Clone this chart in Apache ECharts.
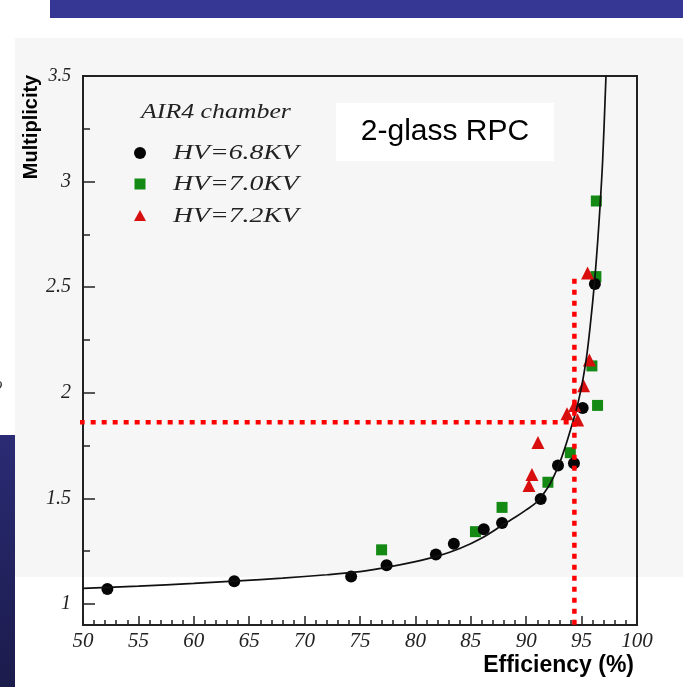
<!DOCTYPE html>
<html>
<head>
<meta charset="utf-8">
<script src="https://cdn.jsdelivr.net/npm/echarts@6/dist/echarts.min.js"></script>
<style>
  html, body { margin: 0; padding: 0; background: #ffffff; }
  #chart { width: 683px; height: 687px; }
</style>
</head>
<body>
<div id="chart"></div>
<script>
// Axis ranges and ticks
const efficiencyRange = [50, 100];
const multiplicityRange = [0.9, 3.5];
const multiplicityTicks = [1, 1.5, 2, 2.5, 3, 3.5];
const multiplicityMinorTicks = [1.25, 1.75, 2.25, 2.75, 3.25];

// Measured points: [efficiency %, multiplicity]
const hv68 = [
  [52.2, 1.07], [63.65, 1.107], [74.2, 1.13], [77.4, 1.183], [81.85, 1.234],
  [83.47, 1.285], [86.17, 1.353], [87.82, 1.383], [91.31, 1.497], [92.87, 1.655],
  [94.31, 1.666], [95.1, 1.928], [96.2, 2.515]
];
const hv70 = [
  [76.95, 1.256], [85.42, 1.342], [87.82, 1.457], [91.96, 1.576], [93.98, 1.716],
  [96.44, 1.94], [95.93, 2.127], [96.29, 2.55], [96.33, 2.908]
];
const hv72 = [
  [90.25, 1.561], [90.52, 1.613], [91.06, 1.764], [93.68, 1.90], [94.64, 1.871],
  [94.37, 1.94], [95.18, 2.033], [95.7, 2.155], [95.54, 2.567]
];

// Fitted multiplicity vs efficiency curve
const fitCurve = [
  [50, 1.073], [55, 1.084], [60, 1.097], [64, 1.109], [68, 1.122], [72, 1.138],
  [75, 1.153], [77.5, 1.174], [80, 1.2], [82, 1.226], [84, 1.262], [86, 1.312],
  [88, 1.378], [89, 1.41], [90, 1.445], [91, 1.485], [92, 1.555], [92.5, 1.605],
  [93, 1.665], [93.5, 1.74], [94, 1.825], [94.5, 1.915], [95, 2.03], [95.5, 2.19],
  [96, 2.43], [96.3, 2.61], [96.6, 2.83], [96.9, 3.1], [97.2, 3.5]
];

// Working point guide lines
const guideHorizontal = [[49.7, 1.86], [94.35, 1.86]];
const guideVertical = [[94.35, 2.54], [94.35, 0.9]];

const legendTitle = 'AIR4 chamber';
const seriesNames = ['HV=6.8KV', 'HV=7.0KV', 'HV=7.2KV'];
const seriesColors = ['#050505', '#148a14', '#d90f0f'];

const serifItalic = { fontFamily: 'Liberation Serif', fontStyle: 'italic', color: '#222' };
const legendFont = 'italic 22px "Liberation Serif"';

const chart = echarts.init(document.getElementById('chart'), null, { renderer: 'canvas' });

// Legend key drawn as graphic elements (wide italic lettering)
const legendRows = [153, 184, 216];
const legendGraphics = [
  { type: 'text', z: 2, x: 141, y: 112, scaleX: 1.23,
    style: { text: legendTitle, font: 'italic 21px "Liberation Serif"', fill: '#222', verticalAlign: 'middle' } },
  { type: 'circle', z: 2, shape: { cx: 140, cy: legendRows[0], r: 6 }, style: { fill: seriesColors[0] } },
  { type: 'rect', z: 2, shape: { x: 134.5, y: legendRows[1] - 5.5, width: 11, height: 11 }, style: { fill: seriesColors[1] } },
  { type: 'polygon', z: 2, shape: { points: [[140, legendRows[2] - 6], [146, legendRows[2] + 5], [134, legendRows[2] + 5]] }, style: { fill: seriesColors[2] } }
].concat(seriesNames.map((name, i) => ({
  type: 'text', z: 2, x: 173, y: legendRows[i], scaleX: 1.26,
  style: { text: name, font: legendFont, fill: '#222', verticalAlign: 'middle' }
})));

chart.setOption({
  animation: false,
  backgroundColor: '#ffffff',
  grid: {
    left: 83, right: 46, top: 76, bottom: 62,
    show: true, borderColor: '#222', borderWidth: 2, backgroundColor: 'transparent'
  },
  graphic: [
    { type: 'rect', z: -10, silent: true, shape: { x: 15, y: 38, width: 668, height: 539 }, style: { fill: '#f6f6f6' } },
    { type: 'rect', z: -10, silent: true, shape: { x: 50, y: 0, width: 633, height: 18 }, style: { fill: '#363795' } },
    {
      type: 'rect', z: -10, silent: true, shape: { x: 0, y: 435, width: 15, height: 252 },
      style: { fill: new echarts.graphic.LinearGradient(0, 0, 0, 1, [
        { offset: 0, color: '#2a2b74' }, { offset: 1, color: '#1b1b4c' }
      ]) }
    },
    { type: 'text', left: -6, top: 376, style: { text: 'o', font: 'italic 17px "Liberation Serif"', fill: '#333' } },
    { type: 'rect', z: 1, shape: { x: 336, y: 103, width: 218, height: 58 }, style: { fill: '#ffffff' } },
    {
      type: 'text', z: 2, x: 445, y: 132,
      style: { text: '2-glass RPC', font: '30px "Liberation Sans"', fill: '#000', align: 'center', verticalAlign: 'middle' }
    },
    {
      type: 'text', x: 31, y: 127, rotation: Math.PI / 2,
      style: { text: 'Multiplicity', font: 'bold 20px "Liberation Sans"', fill: '#000', align: 'center', verticalAlign: 'middle' }
    },
    {
      type: 'text', x: 634, y: 666,
      style: { text: 'Efficiency (%)', font: 'bold 23px "Liberation Sans"', fill: '#000', align: 'right', verticalAlign: 'middle' }
    }
  ].concat(legendGraphics),
  xAxis: {
    type: 'value', min: efficiencyRange[0], max: efficiencyRange[1], interval: 5,
    axisLine: { lineStyle: { color: '#222', width: 2 } },
    axisTick: { inside: true, length: 9, lineStyle: { color: '#222', width: 1.5 } },
    minorTick: { show: true, splitNumber: 5, length: 5, lineStyle: { color: '#222', width: 1.5 } },
    splitLine: { show: false },
    axisLabel: Object.assign({ fontSize: 21, margin: 6 }, serifItalic)
  },
  yAxis: [
    {
      type: 'value', min: multiplicityRange[0], max: multiplicityRange[1],
      axisLine: { lineStyle: { color: '#222', width: 2 } },
      axisTick: { inside: true, length: 12, customValues: multiplicityTicks, lineStyle: { color: '#222', width: 1.5 } },
      splitLine: { show: false },
      axisLabel: Object.assign({
        customValues: multiplicityTicks, fontSize: 20, margin: 12,
        formatter: v => (v === 3.5 ? '{s|3.5}' : String(v)),
        rich: { s: Object.assign({ fontSize: 18 }, serifItalic) }
      }, serifItalic)
    },
    {
      type: 'value', min: multiplicityRange[0], max: multiplicityRange[1], position: 'left', offset: 0,
      axisLine: { show: false },
      axisTick: { inside: true, length: 7, customValues: multiplicityMinorTicks, lineStyle: { color: '#222', width: 1.5 } },
      axisLabel: { show: false },
      splitLine: { show: false }
    }
  ],
  series: [
    {
      name: seriesNames[1], type: 'scatter', data: hv70, symbol: 'rect', symbolSize: 11,
      itemStyle: { color: seriesColors[1], opacity: 1 }, z: 2
    },
    {
      name: seriesNames[0], type: 'scatter', data: hv68, symbol: 'circle', symbolSize: 12,
      itemStyle: { color: seriesColors[0], opacity: 1 }, z: 3
    },
    {
      name: seriesNames[2], type: 'scatter', data: hv72, symbol: 'triangle', symbolSize: 13,
      itemStyle: { color: seriesColors[2], opacity: 1 }, z: 3
    },
    {
      name: 'fit', type: 'line', data: fitCurve, showSymbol: false, smooth: 0.3,
      lineStyle: { color: '#111', width: 1.7 }, z: 4, silent: true
    },
    {
      name: 'guideH', type: 'line', data: guideHorizontal, showSymbol: false, clip: false,
      lineStyle: { color: '#ff0000', width: 4.5, type: [5, 6] }, z: 5, silent: true
    },
    {
      name: 'guideV', type: 'line', data: guideVertical, showSymbol: false, clip: false,
      lineStyle: { color: '#ff0000', width: 4.5, type: [5, 6] }, z: 5, silent: true
    }
  ]
});
</script>
</body>
</html>
